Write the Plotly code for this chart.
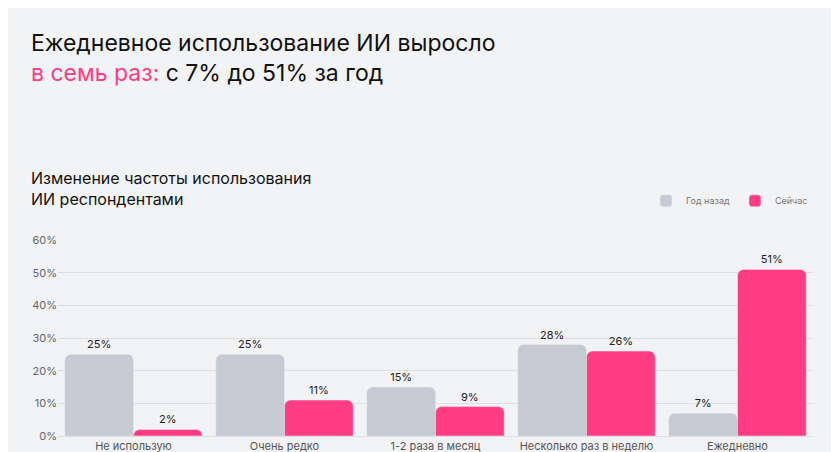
import plotly.graph_objects as go

categories = ["Не использую", "Очень редко", "1-2 раза в месяц", "Несколько раз в неделю", "Ежедневно"]
year_ago = [25, 25, 15, 28, 7]
now = [2, 11, 9, 26, 51]
series_names = ["Год назад", "Сейчас"]

GREY = "#c6cad3"
PINK = "#ff3d80"
FONT = "Inter, Roboto, sans-serif"

fig = go.Figure()
for name, vals, col in [(series_names[0], year_ago, GREY), (series_names[1], now, PINK)]:
    fig.add_trace(go.Bar(
        x=categories, y=vals, name=name, marker_color=col,
        text=[f"{v}%" for v in vals], textposition="outside",
        textfont=dict(size=11, color="#222"), cliponaxis=False,
    ))

fig.update_layout(
    width=839, height=452,
    paper_bgcolor="#f2f3f5", plot_bgcolor="#f2f3f5",
    font=dict(family=FONT, color="#555"),
    margin=dict(l=50, r=34, t=232, b=24, autoexpand=False),
    barmode="group", bargap=0.09, bargroupgap=0.0, barcornerradius=6,
    showlegend=True,
    legend=dict(orientation="h", x=1, xanchor="right", y=1.2, yanchor="middle",
                font=dict(size=9, color="#777"), bgcolor="rgba(0,0,0,0)"),
    yaxis=dict(range=[0, 60], dtick=10, ticksuffix="%", gridcolor="#dcdee3",
               zeroline=False, tickfont=dict(size=11, color="#666"),
               showline=False, ticks="", automargin=False),
    xaxis=dict(tickfont=dict(size=11, color="#555"), showline=True,
               linecolor="#dcdee3", ticks="", automargin=False),
)

fig.add_annotation(xref="paper", yref="paper", x=-0.038, y=2.005, xanchor="left", yanchor="middle",
                   showarrow=False, align="left",
                   text="Ежедневное использование ИИ выросло",
                   font=dict(size=23, color="#111", family=FONT))
fig.add_annotation(xref="paper", yref="paper", x=-0.038, y=1.852, xanchor="left", yanchor="middle",
                   showarrow=False, align="left",
                   text="<span style='color:#ff3d80'>в семь раз:</span> с 7% до 51% за год",
                   font=dict(size=23, color="#111", family=FONT))
fig.add_annotation(xref="paper", yref="paper", x=-0.038, y=1.265, xanchor="left", yanchor="middle",
                   showarrow=False, align="left",
                   text="Изменение частоты использования<br>ИИ респондентами",
                   font=dict(size=16, color="#111", family=FONT))

fig.write_html("out.html")
